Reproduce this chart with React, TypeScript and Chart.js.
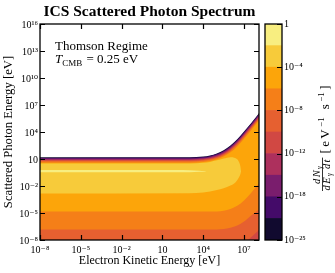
import React, { useEffect, useRef } from "react";
import { Chart, registerables } from "chart.js";

Chart.register(...registerables);

const SERIF = '"Liberation Serif", "DejaVu Serif", "Times New Roman", serif';

// ---------------- axes ----------------
const xLogRange = [-8, 8.1];
const yLogRange = [-8, 16];
const xTickValues = [1e-8, 1e-5, 1e-2, 1e1, 1e4, 1e7];
const xTickLabels = ["10⁻⁸", "10⁻⁵", "10⁻²", "10", "10⁴", "10⁷"];
const yTickValues = [1e-8, 1e-5, 1e-2, 1e1, 1e4, 1e7, 1e10, 1e13, 1e16];
const yTickLabels = ["10⁻⁸", "10⁻⁵", "10⁻²", "10", "10⁴", "10⁷", "10¹⁰", "10¹³", "10¹⁶"];

// ---------------- contour levels / colours ----------------
const levelLabels = ["1e-25", "1e-21", "1e-18", "1e-15", "1e-12", "1e-10", "1e-8", "1e-6", "1e-4", "1e-2", "1"];
const bandColors = ["#110a2f", "#440b69", "#7a1d6d", "#ad305d", "#d14843", "#e66030", "#f57f18", "#fca50a", "#f7cb3a", "#f8ee80"];
const bandSizes = [1, 1, 1, 1, 1, 1, 1, 1, 1, 1];
const cbarTickSteps = [0, 2, 4, 6, 8, 10];
const cbarTickLabels = ["10⁻²⁵", "10⁻¹⁸", "10⁻¹²", "10⁻⁸", "10⁻⁴", "1"];

// ---------------- contour outlines: [log10 Ekin (eV), log10 Eγ (eV)] ----------------
const edge25 = [[-8, 1.19], [3, 1.2], [4, 1.28], [4.5, 1.4], [5, 1.62], [5.5, 1.98], [6, 2.5], [6.5, 3.2], [7, 4.05], [7.5, 4.95], [8, 5.9], [8.1, 6.1]];
const edge21 = [[-8, 1.12], [3, 1.13], [4, 1.21], [4.5, 1.33], [5, 1.55], [5.5, 1.9], [6, 2.42], [6.5, 3.11], [7, 3.96], [7.5, 4.86], [8, 5.81], [8.1, 6.01]];
const edge18 = [[-8, 1.05], [3, 1.06], [4, 1.14], [4.5, 1.26], [5, 1.47], [5.5, 1.82], [6, 2.33], [6.5, 3.02], [7, 3.87], [7.5, 4.77], [8, 5.72], [8.1, 5.92]];
const edge15 = [[-8, 0.975], [3, 0.985], [4, 1.065], [4.5, 1.18], [5, 1.39], [5.5, 1.73], [6, 2.23], [6.5, 2.92], [7, 3.77], [7.5, 4.67], [8, 5.62], [8.1, 5.82]];
const edge12 = [[-8, 0.88], [3, 0.89], [4, 0.97], [4.5, 1.08], [5, 1.29], [5.5, 1.62], [6, 2.11], [6.5, 2.8], [7, 3.65], [7.5, 4.55], [8, 5.5], [8.1, 5.7]];
const edge10 = [[-8, 0.8], [3, 0.81], [4, 0.89], [4.5, 1.0], [5, 1.2], [5.5, 1.53], [6, 2.01], [6.5, 2.7], [7, 3.55], [7.5, 4.45], [8, 5.4], [8.1, 5.6]];
const corner10 = [[7.3, -8], [7.7, -7.45], [8.1, -6.9]];
const edge8Top = [[-8, 0.71], [3, 0.72], [4, 0.8], [4.5, 0.91], [5, 1.1], [5.5, 1.43], [6, 1.9], [6.5, 2.58], [7, 3.43], [7.5, 4.33], [8, 5.28], [8.1, 5.48]];
const edge8Bottom = [[-8, -6.84], [4.5, -6.84], [5.5, -6.78], [6, -6.65], [6.5, -6.4], [7, -5.95], [7.5, -5.3], [8.1, -4.6]];
const edge6Top = [[-8, 0.58], [3, 0.59], [4, 0.67], [4.5, 0.78], [5, 0.97], [5.5, 1.29], [6, 1.74], [6.5, 2.4], [7, 3.25], [7.5, 4.15], [8, 5.1], [8.1, 5.3]];
const edge6Bottom = [[-8, -4.84], [4.5, -4.84], [5.5, -4.75], [6, -4.55], [6.5, -4.2], [7, -3.6], [7.5, -2.8], [8.1, -1.7]];
const edge4Top = [[-8, 0.5], [3, 0.51], [4, 0.58], [4.5, 0.68], [5, 0.85], [5.5, 1.05], [6, 1.2], [6.35, 1.1], [6.6, 0.75], [6.72, 0.25], [6.78, -0.35]];
const edge4Bottom = [[-8, -2.84], [3, -2.8], [4, -2.72], [4.5, -2.6], [5, -2.45], [5.5, -2.25], [6, -1.95], [6.4, -1.55], [6.62, -1.05], [6.74, -0.65], [6.78, -0.35]];
const edge2Top = [[-8, -0.22], [2, -0.23], [3, -0.26], [3.7, -0.3], [4.1, -0.34], [4.25, -0.37]];
const edge2Bottom = [[-8, -0.48], [2, -0.47], [3, -0.46], [3.7, -0.43], [4.1, -0.4], [4.25, -0.37]];

const toXY = (pts: number[][]) => pts.map(([a, b]) => ({ x: Math.pow(10, a), y: Math.pow(10, b) }));

function area(pts: number[][], color: string, fill: any) {
  return {
    data: toXY(pts),
    showLine: true,
    fill,
    backgroundColor: color,
    borderColor: "rgba(0,0,0,0)",
    borderWidth: 0,
    pointRadius: 0,
    pointHoverRadius: 0,
    cubicInterpolationMode: "monotone",
  };
}

const mainDecor = {
  id: "mainDecor",
  afterDraw(chart: any) {
    const { ctx, chartArea: a, scales } = chart;
    const xs = scales.x;
    const ys = scales.y;
    ctx.save();
    ctx.strokeStyle = "#000";
    ctx.lineWidth = 1.3;
    ctx.strokeRect(a.left, a.top, a.right - a.left, a.bottom - a.top);
    ctx.lineWidth = 1.2;
    const L = 5;
    ctx.beginPath();
    xTickValues.forEach((v) => {
      const p = Math.round(xs.getPixelForValue(v)) + 0.5;
      ctx.moveTo(p, a.bottom);
      ctx.lineTo(p, a.bottom - L);
      ctx.moveTo(p, a.top);
      ctx.lineTo(p, a.top + L);
    });
    yTickValues.forEach((v) => {
      const p = Math.round(ys.getPixelForValue(v)) + 0.5;
      ctx.moveTo(a.left, p);
      ctx.lineTo(a.left + L, p);
      ctx.moveTo(a.right, p);
      ctx.lineTo(a.right - L, p);
    });
    ctx.stroke();

    ctx.fillStyle = "#000";
    ctx.textBaseline = "alphabetic";
    ctx.textAlign = "center";
    ctx.font = `bold 15.5px ${SERIF}`;
    ctx.fillText("ICS Scattered Photon Spectrum", (a.left + a.right) / 2, 15.5);

    ctx.textAlign = "left";
    ctx.font = `13px ${SERIF}`;
    ctx.fillText("Thomson Regime", 55, 50);
    let x = 55;
    ctx.font = `italic 13px ${SERIF}`;
    ctx.fillText("T", x, 63);
    x += ctx.measureText("T").width;
    ctx.font = `9px ${SERIF}`;
    ctx.fillText("CMB", x, 65.5);
    x += ctx.measureText("CMB").width;
    ctx.font = `13px ${SERIF}`;
    ctx.fillText(" = 0.25 eV", x + 1, 63);
    ctx.restore();
  },
};

const cbarDecor = {
  id: "cbarDecor",
  afterDraw(chart: any) {
    const { ctx, chartArea: a, scales } = chart;
    ctx.save();
    ctx.strokeStyle = "#000";
    ctx.lineWidth = 1.3;
    ctx.strokeRect(a.left, a.top, a.right - a.left, a.bottom - a.top);
    ctx.lineWidth = 1.2;
    ctx.beginPath();
    cbarTickSteps.forEach((v) => {
      const p = Math.round(scales.y.getPixelForValue(v)) + 0.5;
      ctx.moveTo(a.right - 5, p);
      ctx.lineTo(a.right, p);
    });
    ctx.stroke();

    // rotated label, reading bottom -> top ; local (u,v) -> page (v,-u)
    ctx.fillStyle = "#000";
    ctx.textBaseline = "alphabetic";
    ctx.textAlign = "left";
    ctx.rotate(-Math.PI / 2);
    const startY = 191;
    const fIt = `italic 10.5px ${SERIF}`;
    const fSub = `italic 7.5px ${SERIF}`;
    const fUp = `9px ${SERIF}`;
    const fMain = `13px ${SERIF}`;
    const run = (parts: [string, string, number][], u: number, draw: boolean, gap: number) => {
      parts.forEach(([t, f, v]) => {
        ctx.font = f;
        if (draw) ctx.fillText(t, u, v);
        u += ctx.measureText(t).width + gap;
      });
      return u;
    };
    const num: [string, string, number][] = [["d", fIt, 320], ["N", fIt, 320], ["γ", fSub, 322]];
    const den: [string, string, number][] = [["d", fIt, 330], ["E", fIt, 330], ["γ", fSub, 332], [" d", fIt, 330], ["t", fIt, 330]];
    const numW = run(num, 0, false, 1.4);
    const denW = run(den, 0, false, 1.4);
    const fracW = Math.max(numW, denW) + 1;
    const u0 = -startY;
    run(num, u0 + (fracW - numW) / 2, true, 1.4);
    run(den, u0 + (fracW - denW) / 2, true, 1.4);
    ctx.fillRect(u0, 322.1, fracW, 0.8);
    const units: [string, string, number][] = [
      ["[", fMain, 329],
      ["e", fMain, 329],
      ["V", fMain, 329],
      ["−1", fUp, 323.5],
      [" ", fMain, 329],
      ["s", fMain, 329],
      ["−1", fUp, 323.5],
      ["]", fMain, 329],
    ];
    run(units, u0 + fracW + 4, true, 2.4);
    ctx.restore();
  },
};

export default function App() {
  const mainRef = useRef<HTMLCanvasElement>(null);
  const cbarRef = useRef<HTMLCanvasElement>(null);

  useEffect(() => {
    const C = bandColors;
    const datasets: any[] = [
      area(edge2Top, C[9], 1),
      area(edge2Bottom, C[9], false),
      area(edge4Top, C[8], 3),
      area(edge4Bottom, C[8], false),
      area(edge6Top, C[7], 5),
      area(edge6Bottom, C[7], false),
      area(edge8Top, C[6], 7),
      area(edge8Bottom, C[6], false),
      area(corner10, C[4], "start"),
      area(edge10, C[5], "start"),
      area(edge12, C[4], "start"),
      area(edge15, C[3], "start"),
      area(edge18, C[2], "start"),
      area(edge21, C[1], "start"),
      area(edge25, C[0], "start"),
    ];
    const tickFont = { family: SERIF, size: 10 };
    const main = new Chart(mainRef.current as HTMLCanvasElement, {
      type: "scatter",
      data: { datasets },
      options: {
        responsive: false,
        animation: false,
        events: [],
        layout: { padding: { top: 24, right: 76, bottom: 0, left: 0 } },
        plugins: { legend: { display: false }, tooltip: { enabled: false } },
        scales: {
          x: {
            type: "logarithmic",
            min: Math.pow(10, xLogRange[0]),
            max: Math.pow(10, xLogRange[1]),
            afterBuildTicks: (s: any) => { s.ticks = xTickValues.map((v) => ({ value: v })); },
            afterFit: (s: any) => { s.height = 33; },
            grid: { display: false, drawTicks: false },
            border: { display: false },
            ticks: { autoSkip: false, maxRotation: 0, padding: 4, color: "#000", font: tickFont, callback: (_v: any, i: number) => xTickLabels[i] },
            title: { display: true, text: "Electron Kinetic Energy [eV]", color: "#000", font: { family: SERIF, size: 12 }, padding: { top: 0, bottom: 4.5 } },
          },
          y: {
            type: "logarithmic",
            min: Math.pow(10, yLogRange[0]),
            max: Math.pow(10, yLogRange[1]),
            afterBuildTicks: (s: any) => { s.ticks = yTickValues.map((v) => ({ value: v })); },
            afterFit: (s: any) => { s.width = 40; },
            grid: { display: false, drawTicks: false },
            border: { display: false },
            ticks: { autoSkip: false, padding: 2, labelOffset: 1.5, color: "#000", font: tickFont, callback: (_v: any, i: number) => yTickLabels[i] },
            title: { display: true, text: "Scattered Photon Energy [eV]", color: "#000", font: { family: SERIF, size: 12.7 }, padding: { top: 1.5, bottom: 0 } },
          },
        },
      } as any,
      plugins: [mainDecor],
    });

    const cbar = new Chart(cbarRef.current as HTMLCanvasElement, {
      type: "bar",
      data: {
        labels: [""],
        datasets: bandColors.map((c, i) => ({
          label: levelLabels[i],
          data: [bandSizes[i]],
          backgroundColor: c,
          borderWidth: 0,
          barPercentage: 1,
          categoryPercentage: 1,
        })),
      },
      options: {
        responsive: false,
        animation: false,
        events: [],
        layout: { padding: { top: 24, right: 0, bottom: 33, left: 265 } },
        plugins: { legend: { display: false }, tooltip: { enabled: false } },
        scales: {
          x: { display: false, stacked: true },
          y: {
            stacked: true,
            position: "right",
            min: 0,
            max: 10,
            afterBuildTicks: (s: any) => { s.ticks = cbarTickSteps.map((v) => ({ value: v })); },
            afterFit: (s: any) => { s.width = 53; },
            grid: { display: false, drawTicks: false },
            border: { display: false },
            ticks: { autoSkip: false, padding: 2, color: "#000", font: tickFont, callback: (_v: any, i: number) => cbarTickLabels[i] },
          },
        },
      } as any,
      plugins: [cbarDecor],
    });

    return () => {
      main.destroy();
      cbar.destroy();
    };
  }, []);

  return (
    <div style={{ position: "absolute", left: 0, top: 0, width: 335, height: 273, background: "#fff" }}>
      <canvas ref={mainRef} width={335} height={273} style={{ position: "absolute", left: 0, top: 0 }} />
      <canvas ref={cbarRef} width={335} height={273} style={{ position: "absolute", left: 0, top: 0 }} />
    </div>
  );
}
